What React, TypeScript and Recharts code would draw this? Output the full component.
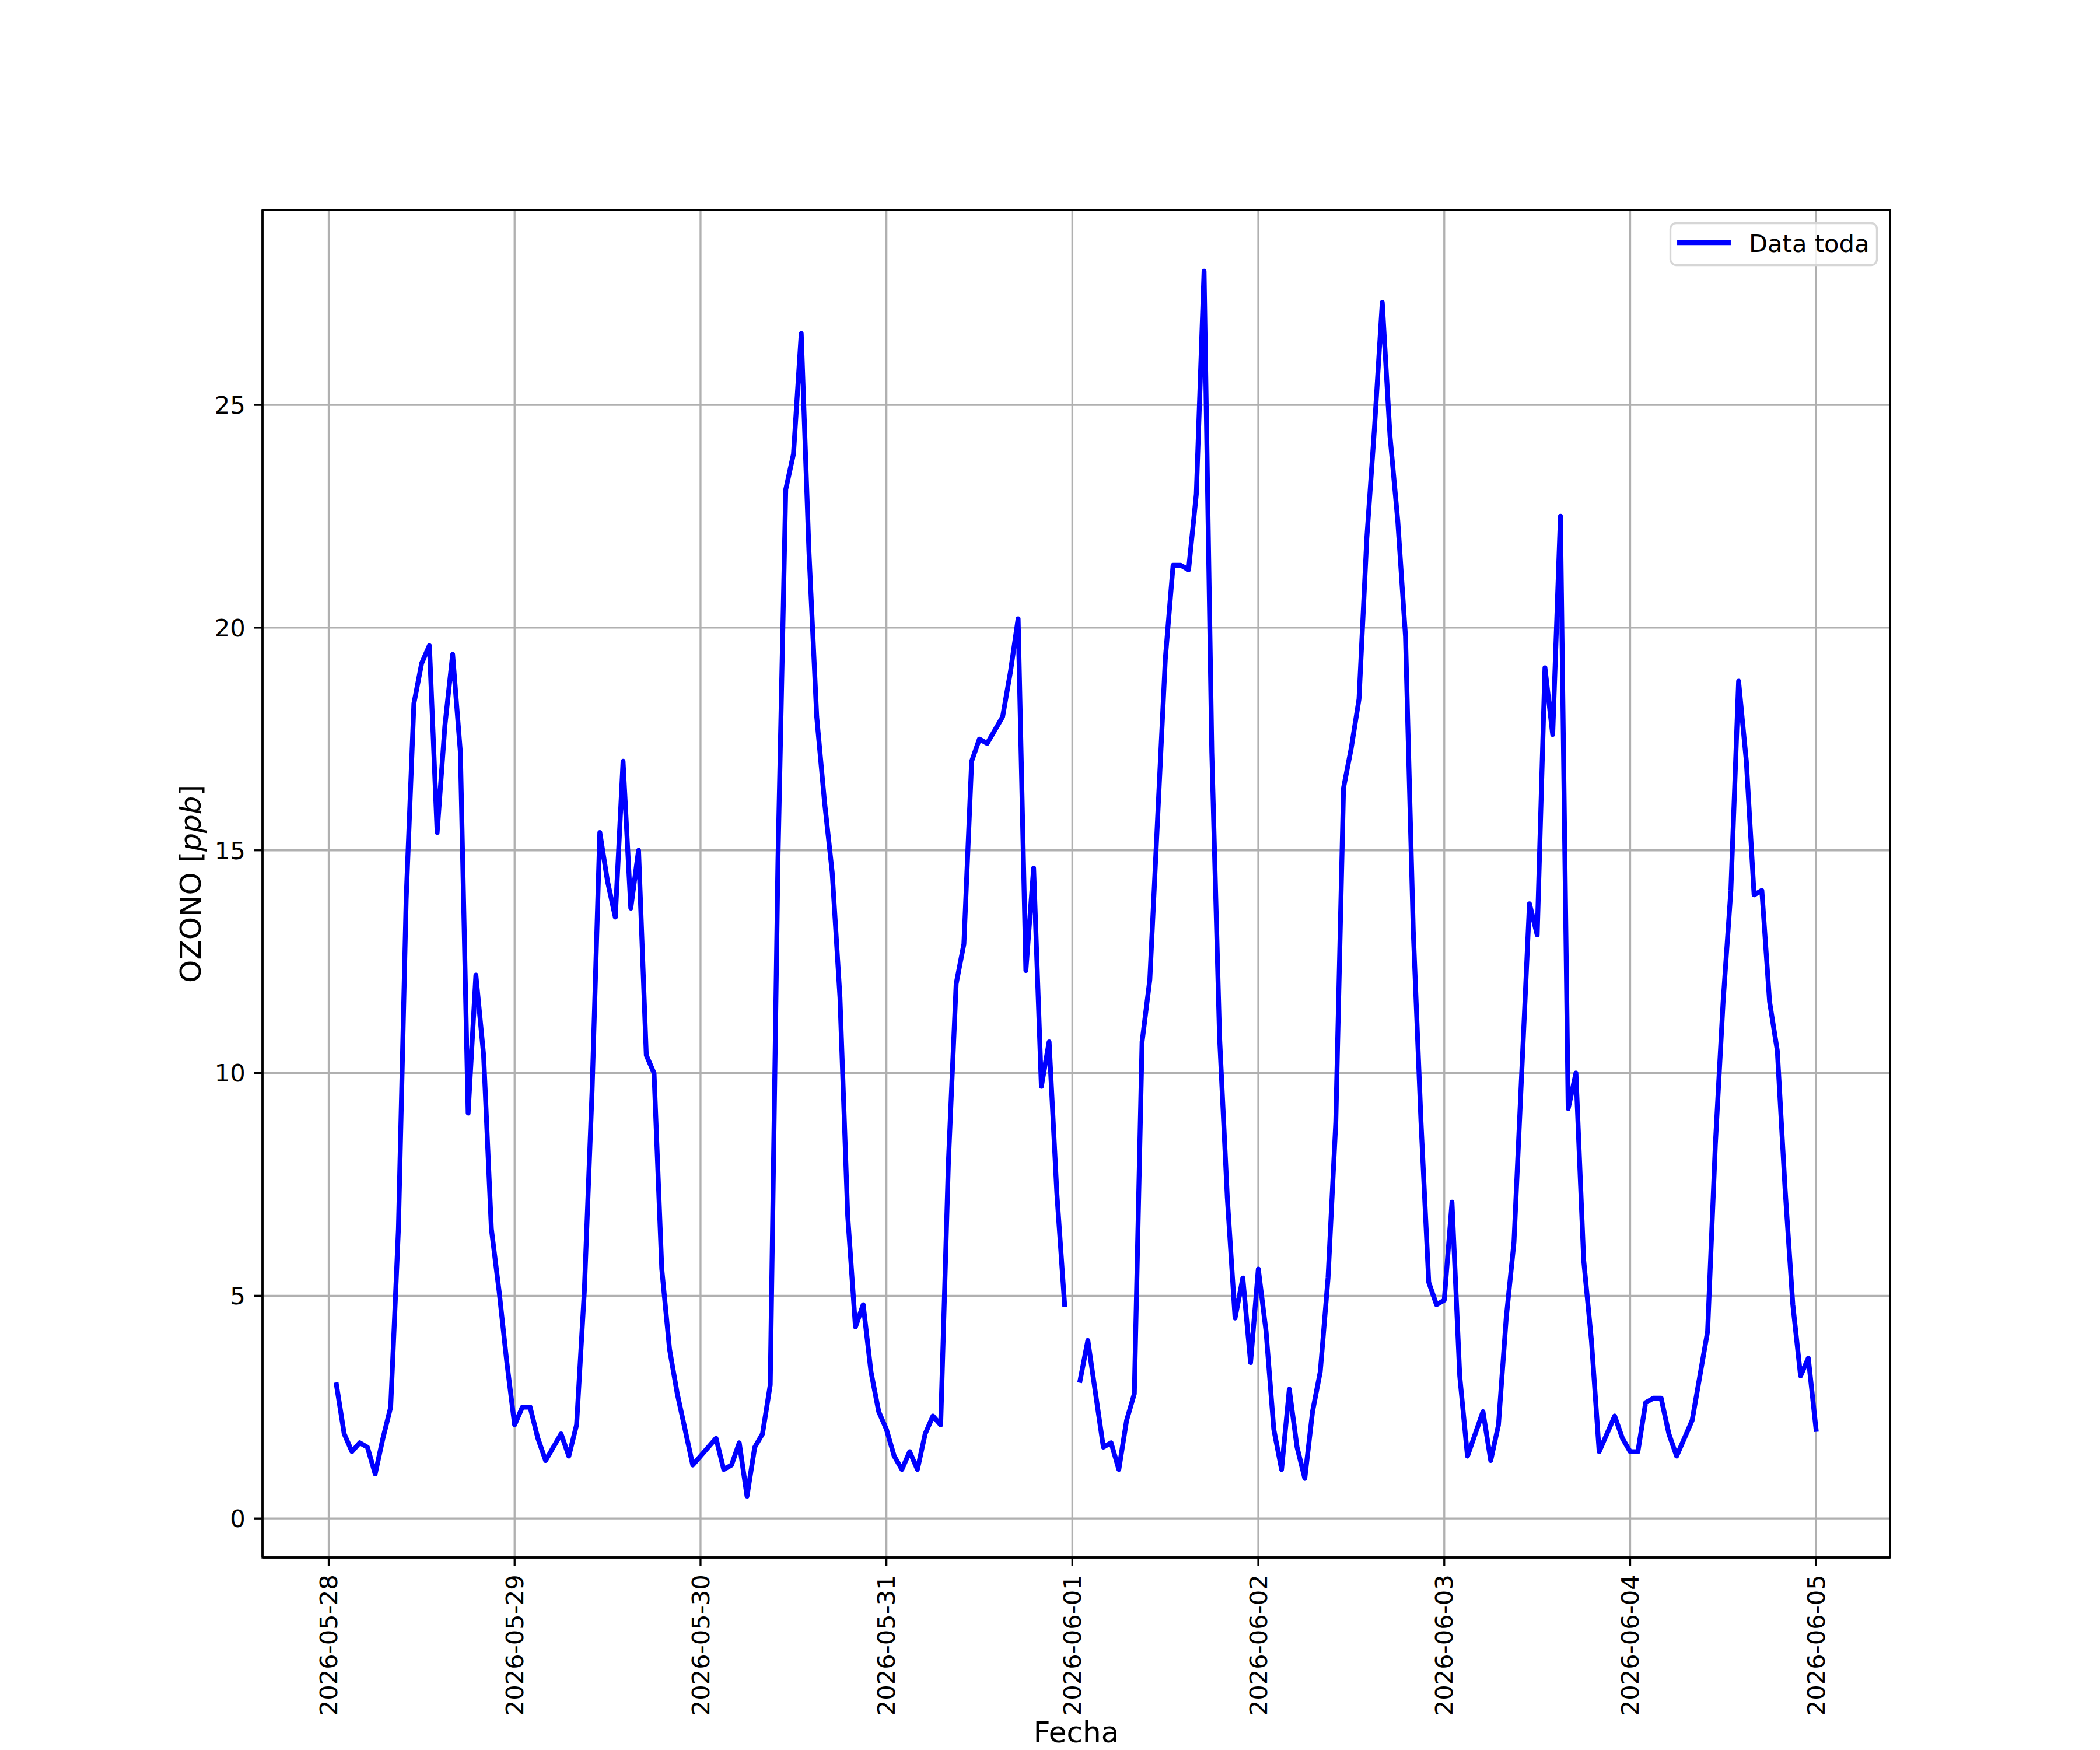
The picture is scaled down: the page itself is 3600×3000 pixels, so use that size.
import React from 'react';
import { LineChart, Line, XAxis, YAxis, CartesianGrid, ReferenceArea, Legend } from 'recharts';

// Tick labels (one per day at 00:00)
const dayLabels = [
  '2026-05-28', '2026-05-29', '2026-05-30', '2026-05-31', '2026-06-01',
  '2026-06-02', '2026-06-03', '2026-06-04', '2026-06-05',
];

// Hourly ozone values [ppb], hours 01:00 .. 24:00 of each day (null = missing)
const day0 = [3.0, 1.9, 1.5, 1.7, 1.6, 1.0, 1.8, 2.5, 6.5, 13.9, 18.3, 19.2, 19.6, 15.4, 17.8, 19.4, 17.2, 9.1, 12.2, 10.4, 6.5, 5.1, 3.5, 2.1];
const day1 = [2.5, 2.5, 1.8, 1.3, 1.6, 1.9, 1.4, 2.1, 5.1, 9.6, 15.4, 14.3, 13.5, 17.0, 13.7, 15.0, 10.4, 10.0, 5.6, 3.8, 2.8, 2.0, 1.2, 1.4];
const day2 = [1.6, 1.8, 1.1, 1.2, 1.7, 0.5, 1.6, 1.9, 3.0, 14.8, 23.1, 23.9, 26.6, 21.7, 18.0, 16.1, 14.5, 11.7, 6.8, 4.3, 4.8, 3.3, 2.4, 2.0];
const day3 = [1.4, 1.1, 1.5, 1.1, 1.9, 2.3, 2.1, 8.0, 12.0, 12.9, 17.0, 17.5, 17.4, 17.7, 18.0, 19.0, 20.2, 12.3, 14.6, 9.7, 10.7, 7.3, 4.8, null];
const day4 = [3.1, 4.0, 2.8, 1.6, 1.7, 1.1, 2.2, 2.8, 10.7, 12.1, 15.7, 19.3, 21.4, 21.4, 21.3, 23.0, 28.0, 17.2, 10.8, 7.2, 4.5, 5.4, 3.5, 5.6];
const day5 = [4.2, 2.0, 1.1, 2.9, 1.6, 0.9, 2.4, 3.3, 5.4, 8.9, 16.4, 17.3, 18.4, 22.0, 24.5, 27.3, 24.3, 22.4, 19.8, 13.2, 8.9, 5.3, 4.8, 4.9];
const day6 = [7.1, 3.2, 1.4, 1.9, 2.4, 1.3, 2.1, 4.5, 6.2, 10.0, 13.8, 13.1, 19.1, 17.6, 22.5, 9.2, 10.0, 5.8, 4.0, 1.5, 1.9, 2.3, 1.8, 1.5];
const day7 = [1.5, 2.6, 2.7, 2.7, 1.9, 1.4, 1.8, 2.2, 3.2, 4.2, 8.4, 11.6, 14.1, 18.8, 17.0, 14.0, 14.1, 11.6, 10.5, 7.4, 4.8, 3.2, 3.6, 2.0];

const yTicks = [0, 5, 10, 15, 20, 25];

const days = [day0, day1, day2, day3, day4, day5, day6, day7];
const data = days.flatMap((vals, d) =>
  vals.map((v, i) => ({ hour: d * 24 + i + 1, ozono: v }))
);
const xTicks = dayLabels.map((_, i) => i * 24);

// matplotlib-style 5% margins
const hours = data.map((p) => p.hour);
const xLo = Math.min(...hours);
const xHi = Math.max(...hours);
const xPad = (xHi - xLo) * 0.05;
const xDomain: [number, number] = [xLo - xPad, xHi + xPad];
const yVals = data.filter((p) => p.ozono !== null).map((p) => p.ozono as number);
const yLo = Math.min(...yVals);
const yHi = Math.max(...yVals);
const yPad = (yHi - yLo) * 0.05;
const yDomain: [number, number] = [yLo - yPad, yHi + yPad];

const FONT = 'DejaVu Sans';
const FS = 41.67;
const LABEL_FS = 50;
const LW = 3.33;
const SERIES_W = 8.33;

const XTick = (props: any) => {
  const { x, y, payload } = props;
  const idx = Math.round(payload.value / 24);
  return (
    <text
      x={x}
      y={y}
      transform={`rotate(-90, ${x}, ${y})`}
      textAnchor="end"
      dy="0.35em"
      fontSize={FS}
      fontFamily={FONT}
      fill="#000"
    >
      {dayLabels[idx]}
    </text>
  );
};

const XLabel = (props: any) => {
  const vb = props.viewBox || {};
  return (
    <text
      x={vb.x + vb.width / 2}
      y={vb.y + 317}
      textAnchor="middle"
      fontSize={LABEL_FS}
      fontFamily={FONT}
      fill="#000"
    >
      Fecha
    </text>
  );
};

const YLabel = (props: any) => {
  const vb = props.viewBox || {};
  const x = vb.x + 44;
  const y = vb.y + vb.height / 2;
  return (
    <text
      x={x}
      y={y}
      transform={`rotate(-90, ${x}, ${y})`}
      textAnchor="middle"
      fontSize={LABEL_FS}
      fontFamily={FONT}
      fill="#000"
    >
      OZONO [<tspan fontStyle="italic">ppb</tspan>]
    </text>
  );
};

const LegendBox = () => (
  <svg width={357} height={75} style={{ overflow: 'visible', display: 'block' }}>
    <rect
      x={1.5}
      y={1.5}
      width={354}
      height={72}
      rx={10}
      ry={10}
      fill="rgba(255,255,255,0.8)"
      stroke="#d6d6d6"
      strokeWidth={3.33}
    />
    <line x1={17.2} y1={35} x2={100.8} y2={35} stroke="#0000ff" strokeWidth={SERIES_W} strokeLinecap="square" />
    <text x={136} y={51} fontSize={FS} fontFamily={FONT} fill="#000">
      Data toda
    </text>
  </svg>
);

export default function App() {
  return (
    <div style={{ position: 'absolute', left: 0, top: 0, width: 3600, height: 3000, background: '#fff' }}>
      <LineChart
        width={3600}
        height={3000}
        data={data}
        margin={{ top: 360, right: 360, left: 300, bottom: 80 }}
      >
        <CartesianGrid stroke="#b0b0b0" strokeWidth={LW} />
        <XAxis
          dataKey="hour"
          type="number"
          domain={xDomain}
          ticks={xTicks}
          interval={0}
          allowDataOverflow
          height={250}
          tickSize={14.6}
          tickMargin={14.6}
          tick={<XTick />}
          tickLine={{ stroke: '#000', strokeWidth: LW }}
          axisLine={{ stroke: '#000', strokeWidth: LW }}
          label={<XLabel />}
        />
        <YAxis
          type="number"
          domain={yDomain}
          ticks={yTicks}
          interval={0}
          allowDataOverflow
          width={150}
          tickSize={14.6}
          tickMargin={14.6}
          tick={{ fontSize: FS, fontFamily: FONT, fill: '#000' }}
          tickLine={{ stroke: '#000', strokeWidth: LW }}
          axisLine={{ stroke: '#000', strokeWidth: LW }}
          label={<YLabel />}
        />
        <ReferenceArea
          x1={xDomain[0]}
          x2={xDomain[1]}
          y1={yDomain[0]}
          y2={yDomain[1]}
          fill="none"
          fillOpacity={0}
          stroke="#000"
          strokeWidth={LW}
          ifOverflow="visible"
        />
        <Line
          type="linear"
          dataKey="ozono"
          name="Data toda"
          stroke="#0000ff"
          strokeWidth={SERIES_W}
          strokeLinejoin="round"
          strokeLinecap="square"
          dot={false}
          activeDot={false}
          connectNulls={false}
          isAnimationActive={false}
        />
        <Legend
          layout="horizontal"
          verticalAlign="middle"
          align="center"
          wrapperStyle={{ position: 'absolute', left: 2862, top: 381, width: 357, height: 75, margin: 0, padding: 0 }}
          content={() => <LegendBox />}
        />
      </LineChart>
    </div>
  );
}
